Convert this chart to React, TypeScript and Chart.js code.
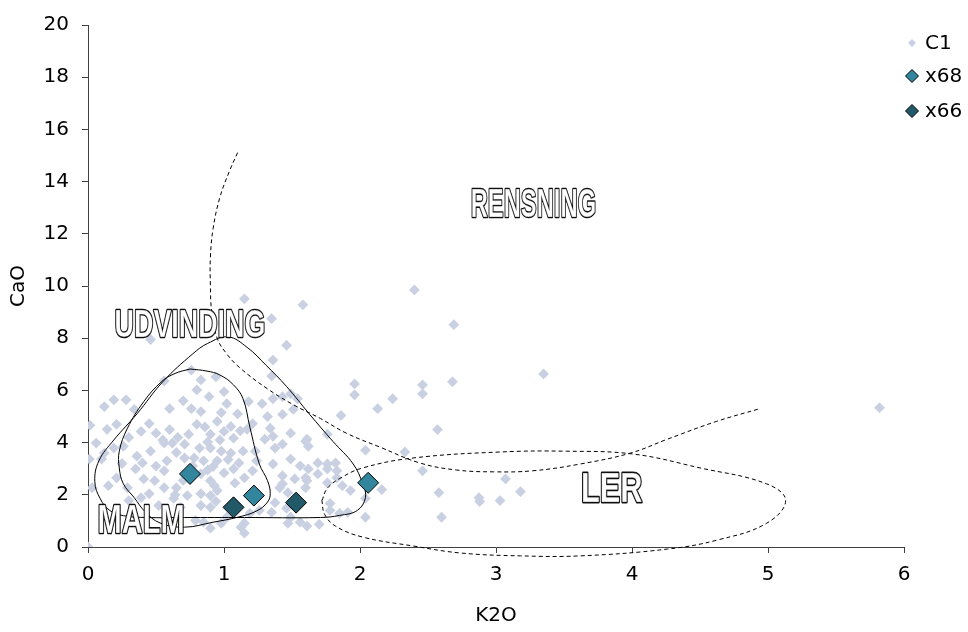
import React, { useEffect, useRef } from 'react';
import { Chart, registerables } from 'chart.js';

Chart.register(...registerables);

// ---- C1 samples (K2O, CaO) ----
const c1K2O = [
  1.15, 1.58, 1.35, 1.46, 1.36, 1.35, 1.96, 0.46, 0.76, 0.56, 0.83, 0.94,
  2.40, 2.69, 3.35, 1.96, 2.46, 2.46, 2.68, 2.24, 2.13, 1.86, 2.57, 2.33,
  2.04, 1.76, 1.49, 1.61, 1.43, 1.54, 1.51, 2.46, 3.07, 3.18, 2.875, 2.88,
  3.03, 2.58, 2.60, 2.16, 2.04, 2.04, 1.93, 1.87, 1.78, 1.91, 1.70, 1.61,
  1.47, 1.83, 1.76, 1.69, 1.61, 1.52, 1.43, 5.82, 1.18, 1.28, 1.36, 1.43,
  1.49, 1.32, 1.21, 1.17, 1.34, 1.36, 1.60, 1.62, 1.43, 1.375, 1.30, 1.23,
  1.14, 1.36, 1.49, 1.56, 1.62, 1.69, 1.76, 1.82, 1.60, 1.43, 1.41, 1.47,
  1.60, 1.76, 1.83, 1.78, 1.85, 1.21, 1.24, 1.15, 1.375, 1.35, 1.49, 1.56,
  1.46, 1.15, 1.15, 1.26, 1.19, 0.015, 0.12, 0.19, 0.28, 0.34, 0.60, 0.76,
  0.83, 0.89, 1.02, 0.45, 0.50, 0.39, 0.21, 0.14, 0.06, 0.01, 0.10, 0.12,
  0.19, 0.26, 0.36, 0.46, 0.40, 0.35, 0.21, 0.15, 0.03, 0.29, 0.41, 0.49,
  0.45, 0.39, 0.30, 0.56, 0.58, 0.62, 0.56, 0.71, 0.74, 0.80, 0.95, 1.00,
  0.90, 1.07, 0.82, 0.90, 0.98, 1.05, 0.95, 0.85, 0.78, 0.71, 0.73, 0.83,
  0.90, 1.00, 1.07, 1.11, 0.56, 0.65, 0.73, 0.83, 0.90, 0.95, 0.63, 0.68,
  0.52, 0.90, 0.83, 0.85, 0.98, 0.90, 0.79, 0.00, 1.02, 1.125, 0.80, 0.88,
  0.92, 0.97, 1.05, 0.86, 0.65, 0.60, 1.10, 0.70, 1.00, 0.66, 0.77, 0.93,
  1.03, 0.88, 0.70, 1.12, 0.98, 0.55, 0.50, 0.64, 1.08, 0.94, 0.30, 0.25,
];
const c1CaO = [
  9.51, 9.28, 8.75, 7.73, 7.16, 6.55, 6.25, 7.95, 6.78, 6.36, 6.40, 6.52,
  9.85, 8.52, 6.63, 5.83, 6.21, 5.87, 6.33, 5.68, 5.30, 5.04, 4.50, 3.64,
  3.71, 4.32, 4.36, 4.13, 5.08, 5.68, 5.27, 2.92, 2.61, 2.12, 1.89, 1.74,
  1.78, 2.08, 1.14, 2.20, 1.14, 1.86, 2.16, 2.35, 1.67, 1.33, 0.87, 0.80,
  0.91, 2.92, 3.18, 2.80, 2.54, 2.61, 2.42, 5.34, 5.57, 5.49, 5.68, 5.76,
  5.87, 5.00, 4.73, 4.51, 4.55, 4.24, 4.05, 3.86, 3.94, 3.79, 4.13, 3.67,
  3.67, 3.18, 3.37, 3.11, 2.99, 3.22, 2.99, 3.22, 2.65, 2.73, 2.27, 2.08,
  2.27, 2.46, 2.65, 1.40, 1.29, 2.92, 3.30, 2.65, 1.70, 1.33, 1.14, 0.95,
  1.48, 0.91, 0.53, 1.40, 1.29, 4.66, 5.38, 5.64, 5.64, 5.27, 5.30, 5.30,
  5.19, 5.76, 5.49, 4.73, 4.36, 4.43, 4.70, 4.51, 3.98, 3.37, 3.37, 3.60,
  3.79, 3.86, 3.48, 3.67, 3.22, 2.99, 2.65, 2.35, 2.27, 2.27, 2.61, 2.54,
  2.04, 1.89, 1.78, 2.92, 3.30, 3.98, 3.98, 3.94, 4.32, 4.70, 4.81, 4.43,
  4.32, 4.17, 3.79, 3.79, 3.67, 3.60, 3.30, 3.30, 3.41, 3.41, 2.84, 2.80,
  2.54, 2.84, 2.99, 3.22, 2.27, 2.27, 1.97, 2.04, 1.97, 2.16, 1.86, 1.52,
  1.59, 1.52, 1.59, 0.95, 0.91, 0.72, 1.02, 0.00, 1.14, 0.76, 6.02, 4.02,
  3.08, 4.10, 4.62, 4.60, 3.62, 4.50, 5.10, 5.60, 5.95, 4.20, 3.10, 2.35,
  3.35, 2.95, 2.55, 4.45, 5.15, 4.10, 3.10, 2.00, 2.45, 1.75, 4.20, 3.20,
];

// ---- x68 and x66 samples ----
const x68K2O = [0.75, 1.22, 2.06];
const x68CaO = [2.80, 1.97, 2.46];
const x66K2O = [1.07, 1.53];
const x66CaO = [1.52, 1.70];

// ---- field boundaries ----
const rensningK2O = [1.10, 1.04, 0.97, 0.92, 0.90, 0.90, 0.91, 0.95, 1.02, 1.12, 1.32, 1.51, 1.71, 1.90, 2.15, 2.44, 2.71, 2.98, 3.27, 3.62, 3.99, 4.26, 4.62, 4.94];
const rensningCaO = [15.11, 14.4, 13.4, 12.2, 11.1, 10.0, 9.0, 8.0, 7.4, 6.85, 6.06, 5.45, 4.92, 4.36, 3.82, 3.22, 2.95, 2.88, 2.92, 3.18, 3.60, 4.13, 4.81, 5.30];

const udvindingK2O = [1.15, 1.71, 1.85, 1.98, 2.04, 2.02, 1.95, 1.80, 1.63, 1.46, 1.31, 1.17, 1.03, 0.88, 0.77, 0.55, 0.36, 0.19, 0.08, 0.05, 0.09, 0.16, 0.26, 0.43, 0.71, 1.15];
const udvindingCaO = [1.13, 1.13, 1.21, 1.40, 1.89, 2.42, 3.18, 4.05, 5.08, 6.15, 6.96, 7.65, 8.05, 7.80, 7.40, 6.33, 5.10, 4.10, 3.30, 2.50, 1.85, 1.40, 1.20, 1.13, 1.13, 1.13];

const malmK2O = [0.75, 0.875, 0.97, 1.07, 1.14, 1.19, 1.26, 1.32, 1.34, 1.32, 1.24, 1.10, 0.92, 0.71, 0.53, 0.42, 0.34, 0.26, 0.23, 0.23, 0.29, 0.41, 0.54, 0.64, 0.75];
const malmCaO = [6.82, 6.74, 6.59, 6.21, 5.68, 4.60, 3.18, 2.54, 2.05, 1.72, 1.38, 1.14, 0.95, 0.76, 0.92, 1.35, 1.89, 2.42, 3.03, 3.67, 4.55, 5.57, 6.33, 6.65, 6.82];

const lerK2O = [1.72, 1.76, 1.86, 2.02, 2.39, 3.03, 3.52, 4.01, 4.50, 4.99, 5.13, 4.99, 4.63, 4.26, 3.62, 3.18, 2.74, 2.39, 2.02, 1.82, 1.74, 1.72];
const lerCaO = [1.78, 2.25, 2.65, 3.03, 3.41, 3.64, 3.67, 3.56, 3.03, 2.42, 1.78, 0.91, 0.27, -0.08, -0.34, -0.34, -0.23, 0.04, 0.38, 0.80, 1.25, 1.78];

// ---- field names and where they sit (data units) ----
const zoneNames = ['RENSNING', 'UDVINDING', 'MALM', 'LER'];
const zoneK2O = [3.275, 0.75, 0.39, 3.85];
const zoneCaO = [13.18, 8.58, 1.08, 2.31];

const seriesNames = ['C1', 'x68', 'x66'];

// styles
const C1_COLOR = '#c8d0e2';
const X68_COLOR = '#31859c';
const X66_COLOR = '#215968';
const FONT = '"DejaVu Sans", "Liberation Sans", Arial, sans-serif';
const ZONE_W = [123, 148, 84, 60];
const ZONE_H = [28, 27, 29, 30];

const pts = (xs: number[], ys: number[]) => xs.map((v, i) => ({ x: v, y: ys[i] }));

const zonePlugin = {
  id: 'zoneLabels',
  afterDatasetsDraw(chart: any) {
    const { ctx, scales } = chart;
    const xs = scales.x;
    const ys = scales.y;
    ctx.save();
    zoneNames.forEach((t, i) => {
      const px = xs.getPixelForValue(zoneK2O[i]);
      const py = ys.getPixelForValue(zoneCaO[i]);
      ctx.font = 'bold 40px "Liberation Sans", Arial, sans-serif';
      const m = ctx.measureText(t);
      const w = m.actualBoundingBoxLeft + m.actualBoundingBoxRight;
      const h = m.actualBoundingBoxAscent + m.actualBoundingBoxDescent;
      const off = (m.actualBoundingBoxAscent - m.actualBoundingBoxDescent) / 2;
      ctx.save();
      ctx.translate(px, py);
      ctx.scale(ZONE_W[i] / w, ZONE_H[i] / h);
      ctx.textAlign = 'center';
      ctx.textBaseline = 'alphabetic';
      ctx.lineJoin = 'round';
      ctx.lineWidth = 2.6;
      ctx.strokeStyle = '#111';
      ctx.strokeText(t, 0, off);
      ctx.fillStyle = '#fff';
      ctx.fillText(t, 0, off);
      ctx.lineWidth = 0.8;
      ctx.strokeStyle = 'rgba(0,0,0,0.3)';
      ctx.strokeText(t, 0, off);
      ctx.restore();
    });
    ctx.restore();
  },
};

const legendPlugin = {
  id: 'sideLegend',
  afterDraw(chart: any) {
    const { ctx } = chart;
    const rows = [
      { name: seriesNames[0], y: 43, r: 4, fill: C1_COLOR, stroke: null },
      { name: seriesNames[1], y: 76, r: 6.5, fill: X68_COLOR, stroke: '#000' },
      { name: seriesNames[2], y: 111, r: 6.5, fill: X66_COLOR, stroke: '#000' },
    ];
    ctx.save();
    ctx.font = `20px ${FONT}`;
    ctx.textBaseline = 'middle';
    ctx.textAlign = 'left';
    rows.forEach((row) => {
      const cx = 912;
      ctx.beginPath();
      ctx.moveTo(cx - row.r, row.y);
      ctx.lineTo(cx, row.y - row.r);
      ctx.lineTo(cx + row.r, row.y);
      ctx.lineTo(cx, row.y + row.r);
      ctx.closePath();
      ctx.fillStyle = row.fill;
      ctx.fill();
      if (row.stroke) {
        ctx.lineWidth = 1;
        ctx.strokeStyle = row.stroke;
        ctx.stroke();
      }
      ctx.fillStyle = '#000';
      ctx.fillText(row.name, 925, row.y + 1);
    });
    ctx.restore();
  },
};

export default function App() {
  const ref = useRef<HTMLCanvasElement | null>(null);

  useEffect(() => {
    if (!ref.current) return;
    const curve = (label: string, xs: number[], ys: number[], dashed: boolean, order: number) => ({
      label,
      data: pts(xs, ys),
      showLine: true,
      pointRadius: 0,
      pointHoverRadius: 0,
      borderColor: '#000',
      borderWidth: 1,
      borderDash: dashed ? [4, 3] : [],
      tension: 0.4,
      capBezierPoints: false,
      fill: false,
      clip: false,
      order,
    });

    const chart = new Chart(ref.current, {
      type: 'scatter',
      data: {
        datasets: [
          {
            label: seriesNames[2],
            data: pts(x66K2O, x66CaO),
            pointStyle: 'rectRot',
            pointRadius: 10.5,
            backgroundColor: X66_COLOR,
            borderColor: '#000',
            borderWidth: 1,
            order: 0,
          },
          {
            label: seriesNames[1],
            data: pts(x68K2O, x68CaO),
            pointStyle: 'rectRot',
            pointRadius: 10.5,
            backgroundColor: X68_COLOR,
            borderColor: '#000',
            borderWidth: 1,
            order: 1,
          },
          curve('LER', lerK2O, lerCaO, true, 2),
          curve('RENSNING', rensningK2O, rensningCaO, true, 3),
          curve('UDVINDING', udvindingK2O, udvindingCaO, false, 4),
          curve('MALM', malmK2O, malmCaO, false, 5),
          {
            label: seriesNames[0],
            data: pts(c1K2O, c1CaO),
            pointStyle: 'rectRot',
            pointRadius: 5.4,
            backgroundColor: C1_COLOR,
            borderWidth: 0,
            order: 10,
          },
        ] as any,
      },
      options: {
        responsive: false,
        maintainAspectRatio: false,
        animation: false,
        events: [],
        layout: { padding: { left: 0, top: 19, right: 64, bottom: 0 } },
        plugins: {
          legend: { display: false },
          tooltip: { enabled: false },
        },
        scales: {
          x: {
            type: 'linear',
            min: 0,
            max: 6,
            afterFit: (s: any) => { s.height = 85; },
            ticks: { stepSize: 1, color: '#000', padding: 10, font: { family: FONT, size: 20 } },
            grid: { drawOnChartArea: false, drawTicks: true, tickLength: 6, color: '#404040' },
            border: { display: true, color: '#404040', width: 1 },
            title: { display: true, text: 'K2O', color: '#000', font: { family: FONT, size: 20 }, padding: { top: 4, bottom: 4 } },
          },
          y: {
            type: 'linear',
            min: 0,
            max: 20,
            afterFit: (s: any) => { s.width = 88; },
            ticks: { stepSize: 2, color: '#000', padding: 13, font: { family: FONT, size: 20 } },
            grid: { drawOnChartArea: false, drawTicks: true, tickLength: 6, color: '#404040' },
            border: { display: true, color: '#404040', width: 1 },
            title: { display: true, text: 'CaO', color: '#000', font: { family: FONT, size: 20 }, padding: { top: 7, bottom: 0 } },
          },
        },
      } as any,
      plugins: [zonePlugin, legendPlugin],
    });
    return () => chart.destroy();
  }, []);

  return (
    <div style={{ position: 'absolute', left: 0, top: 0, width: 968, height: 632, background: '#fff' }}>
      <canvas ref={ref} width={968} height={632} style={{ display: 'block' }} />
    </div>
  );
}
